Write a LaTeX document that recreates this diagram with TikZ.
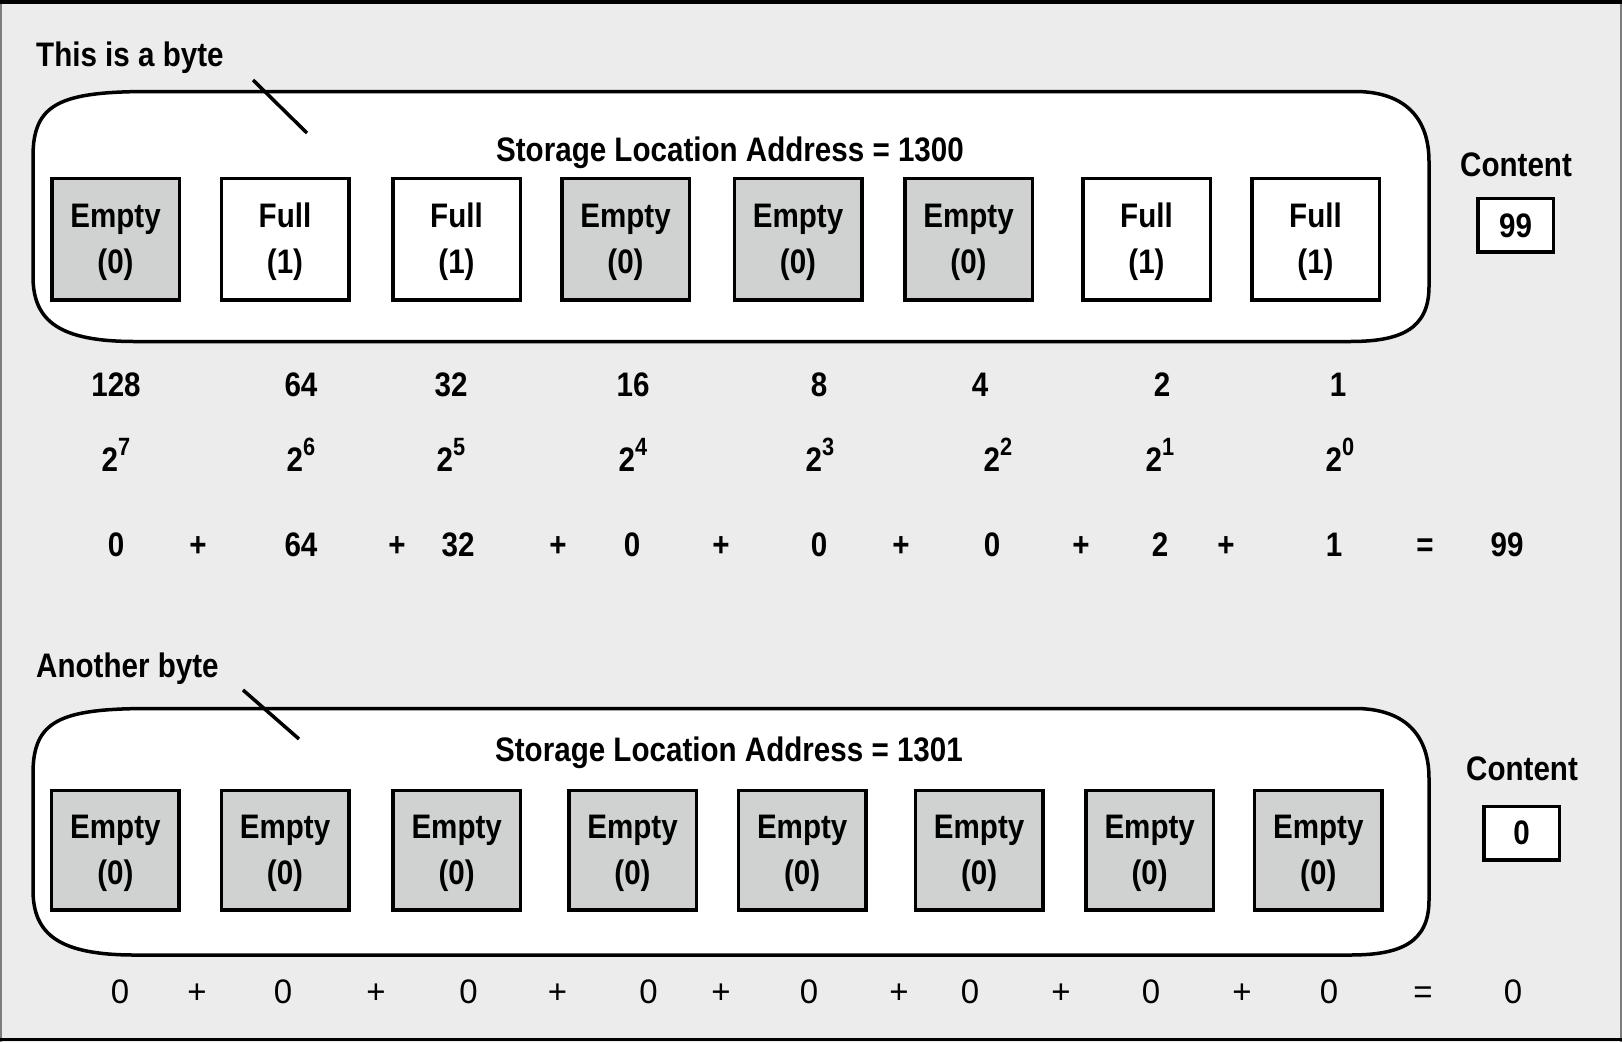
\documentclass[tikz,border=0pt]{standalone}
\usepackage{fontspec}
\setmainfont{Liberation Sans}[FakeStretch=0.87]
\newfontfamily\lightfont{Liberation Sans}[FakeStretch=0.97]
\definecolor{bg}{RGB}{236,236,236}
\definecolor{cellgray}{RGB}{208,210,210}
\definecolor{edgegray}{RGB}{125,125,125}

% rounded outline of one byte, between the lines y = #1 (top) and y = #2 (bottom)
\newcommand{\byteframe}[2]{%
  \draw[frameline] (150,#1) -- (1355,#1)
    .. controls (1400,#1) and (1429,{#1+22}) .. (1429,{#1+70})
    -- (1429,{#2-55})
    .. controls (1429,{#2-12}) and (1400,#2) .. (1350,#2)
    -- (135,#2)
    .. controls (60,#2) and (33,{#2-20}) .. (33,{#2-65})
    -- (33,{#1+65})
    .. controls (33,{#1+12}) and (60,#1) .. (150,#1) -- cycle;}

\begin{document}
\begin{tikzpicture}[x=1pt,y=-1pt,
  txt/.style={inner sep=0pt, font=\bfseries\fontsize{34}{46}\selectfont},
  celltxt/.style={txt, align=center},
  cell/.style={draw=black, line width=3.5pt, minimum width=127.5pt, inner sep=0pt},
  emptycell/.style={cell, fill=cellgray},
  fullcell/.style={cell, fill=white},
  valbox/.style={txt, draw=black, line width=3.5pt, fill=white,
    minimum width=75.5pt, minimum height=53.5pt},
  frameline/.style={draw=black, line width=3.5pt, fill=white},
  pointer/.style={draw=black, line width=3.5pt},
  lightnum/.style={inner sep=0pt, font=\lightfont\fontsize{34}{46}\selectfont},
]
\useasboundingbox (0,0) rectangle (1622,1042);

% page background and border
\fill[bg] (0,0) rectangle (1622,1042);
\draw[edgegray, line width=2pt] (1,0) -- (1,1042);
\draw[edgegray, line width=2pt] (1620.5,0) -- (1620.5,1042);
\draw[black, line width=3.5pt] (0,1.75) -- (1622,1.75);
\draw[black, line width=3pt] (0,1039.5) -- (1622,1039.5);

% ---------- first byte ----------
\node[txt, anchor=base west] (lab1) at (36,66.7) {This is a byte};
\byteframe{91.5}{341.5}
\coordinate (ptr1a) at (253,80);
\coordinate (ptr1b) at (307,133);
\draw[pointer] (ptr1a) -- (ptr1b);
\node[txt, anchor=base] (addr1) at (730,161.7) {Storage Location Address = 1300};

\foreach \x/\kind/\t/\v [count=\i] in {
    115.5/emptycell/Empty/0, 285/fullcell/Full/1, 456.5/fullcell/Full/1,
    625.5/emptycell/Empty/0, 798/emptycell/Empty/0, 968.5/emptycell/Empty/0,
    1146.5/fullcell/Full/1, 1315.5/fullcell/Full/1}{
  \node[\kind, minimum height=121.5pt] (a\i) at (\x,239.2) {};
  \node[celltxt] (a\i t) at ([yshift=-3pt]a\i.center) {\t\\(\v)};
}

\node[txt, anchor=base] (cont1) at (1516,176.7) {Content};
\node[valbox] (val1) at (1515.5,225.3) {99};

% place values and powers of two
\foreach \x/\w [count=\i] in {116/128, 301/64, 451/32, 633/16, 819/8, 980/4, 1162/2, 1338/1}
  \node[txt, anchor=base] (w\i) at (\x,396.7) {\w};
\foreach \x/\e [count=\i] in {116/7, 301/6, 451/5, 633/4, 820/3, 998/2, 1160/1, 1340/0}
  \node[txt, anchor=base] (pw\i) at (\x,471.7)
    {2\raisebox{16pt}{\fontsize{25}{25}\selectfont\e}};

% sum for the first byte
\foreach \x/\t [count=\i] in {116/0, 198/+, 301/64, 397/+, 458/32, 558/+, 632/0,
    721/+, 819/0, 901/+, 992/0, 1081/+, 1160/2, 1226/+, 1334/1, 1425/=, 1507/99}
  \node[txt, anchor=base] (s\i) at (\x,556.7) {\t};

% ---------- second byte ----------
\node[txt, anchor=base west] (lab2) at (36,677) {Another byte};
\byteframe{708.5}{955}
\coordinate (ptr2a) at (243,690);
\coordinate (ptr2b) at (299,739);
\draw[pointer] (ptr2a) -- (ptr2b);
\node[txt, anchor=base] (addr2) at (729,761.7) {Storage Location Address = 1301};

\foreach \x [count=\i] in {115.4, 285, 456.7, 632.5, 802.2, 979.1, 1149.7, 1318.3}{
  \node[emptycell, minimum height=119.5pt] (b\i) at (\x,850) {};
  \node[celltxt] (b\i t) at ([yshift=-3pt]b\i.center) {Empty\\(0)};
}

\node[txt, anchor=base] (cont2) at (1522,780) {Content};
\node[valbox] (val2) at (1521.5,833) {0};

% sum for the second byte
\foreach \x/\t [count=\i] in {120/0, 197/+, 283/0, 376/+, 468.6/0, 557.5/+, 648.6/0,
    721/+, 809/0, 899/+, 970/0, 1061/+, 1151/0, 1242/+, 1329/0, 1423/=, 1513/0}
  \node[lightnum, anchor=base] (r\i) at (\x,1003) {\t};
\end{tikzpicture}
\end{document}
